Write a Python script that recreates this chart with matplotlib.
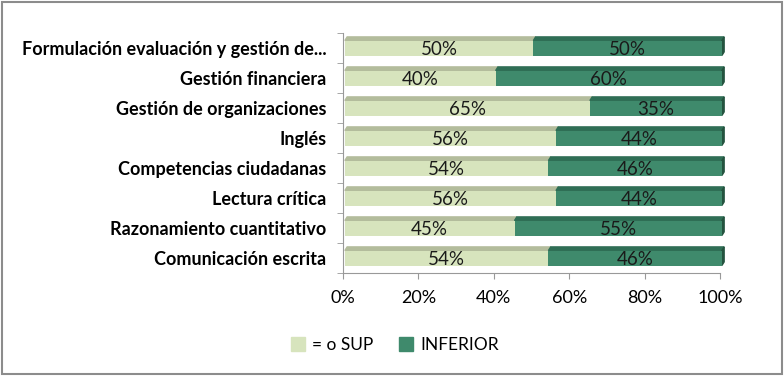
import numpy as np
import matplotlib.pyplot as plt
from matplotlib.patches import Polygon, Rectangle

plt.rcParams['font.family'] = ['Lato', 'DejaVu Sans']

categorias = ['Formulación evaluación y gestión de...', 'Gestión financiera',
              'Gestión de organizaciones', 'Inglés', 'Competencias ciudadanas',
              'Lectura crítica', 'Razonamiento cuantitativo', 'Comunicación escrita']
sup = [50, 40, 65, 56, 54, 56, 45, 54]
inferior = [50, 60, 35, 44, 46, 44, 55, 46]

c_sup = '#d7e4bd'
c_inf = '#3f8a6c'
c_sup_top = '#b3bc9c'
c_inf_top = '#2f6e55'

fig = plt.figure(figsize=(7.84, 3.76), dpi=100)
ax = fig.add_axes([343/784, 1-273/376, (720-343)/784, (273-33)/376])

y = np.arange(len(categorias))[::-1]
h = 0.5
dx, dy = 0.6, 0.12  # profundidad 3D

for yi, s, i in zip(y, sup, inferior):
    # caras frontales
    ax.barh(yi, s, height=h, left=0.5, color=c_sup, edgecolor='none', zorder=3)
    ax.barh(yi, i, height=h, left=0.5 + s, color=c_inf, edgecolor='none', zorder=3, clip_on=False)
    # cara superior
    top = yi + h/2
    ax.add_patch(Polygon([(0.5, top), (0.5 + s, top), (0.5 + s + dx, top + dy), (0.5 + dx, top + dy)],
                         closed=True, color=c_sup_top, zorder=2))
    ax.add_patch(Polygon([(0.5 + s, top), (100.5, top), (100.5 + dx, top + dy), (0.5 + s + dx, top + dy)],
                         closed=True, color=c_inf_top, zorder=2, clip_on=False))
    # cara lateral
    ax.add_patch(Polygon([(100.5, yi - h/2), (100.5 + dx, yi - h/2 + dy), (100.5 + dx, top + dy), (100.5, top)],
                         closed=True, color='#24533f', zorder=2, clip_on=False))
    ax.text(0.5 + s/2, yi - 0.05, f'{s}%', ha='center', va='center', fontsize=13.5, color='#1a1a1a', zorder=4)
    ax.text(0.5 + s + i/2, yi - 0.05, f'{i}%', ha='center', va='center', fontsize=13.5, color='#1a1a1a', zorder=4)

ax.set_xlim(0, 100)
ax.set_ylim(-0.5, len(categorias) - 0.5)
ax.set_xticks(np.arange(0, 101, 20))
ax.set_xticklabels([f'{v}%' for v in range(0, 101, 20)], fontsize=13)
ax.set_yticks(y)
ax.set_yticklabels(categorias, fontsize=13, fontweight='bold')
ax.set_yticks(np.arange(-0.5, len(categorias)), minor=True)
ax.tick_params(axis='y', which='major', length=0, pad=12)
ax.tick_params(axis='y', which='minor', length=4, color='#999999')
ax.tick_params(axis='x', length=4, color='#999999', pad=8)
for sp in ['top', 'right']:
    ax.spines[sp].set_visible(False)
ax.spines['left'].set_color('#999999')
ax.spines['bottom'].set_color('#999999')

handles = [Rectangle((0, 0), 1, 1, color=c_sup), Rectangle((0, 0), 1, 1, color=c_inf)]
fig.legend(handles, ['= o SUP', 'INFERIOR'], loc='center', bbox_to_anchor=(395/784, 1-345/376),
           ncol=2, frameon=False, fontsize=12.5, handlelength=0.8, handleheight=0.8,
           handletextpad=0.4, columnspacing=1.5)

fig.patches.append(Rectangle((0.003, 0.005), 0.994, 0.99, transform=fig.transFigure,
                             fill=False, edgecolor='#8c8c8c', linewidth=1.5))

fig.savefig('out.png', dpi=100)
